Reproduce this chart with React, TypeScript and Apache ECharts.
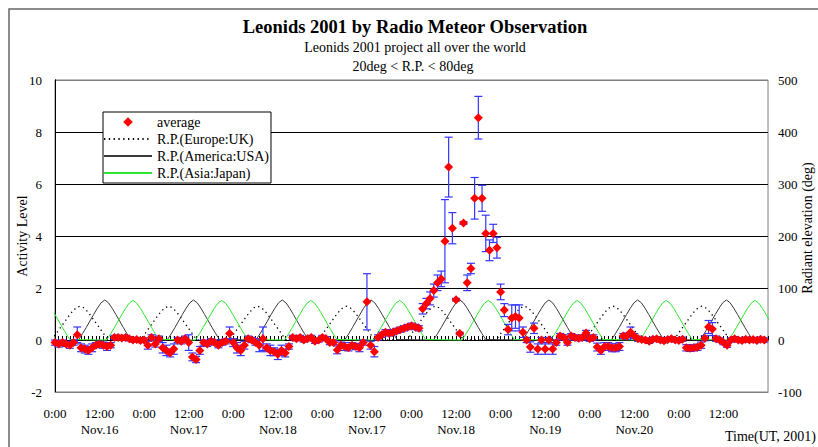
import React, { useEffect, useRef } from "react";
import * as echarts from "echarts";

const SERIF = '"Liberation Serif", "Times New Roman", serif';

const DAY_LABELS = ["Nov.16", "Nov.17", "Nov.18", "Nov.17", "Nov.18", "No.19", "Nov.20", ""];
const Y_LEFT_TICKS = { min: -2, max: 10, step: 2 };
const Y_RIGHT_TICKS = { min: -100, max: 500, step: 100 };

// hourly average activity level, hour 0 .. 191
const AVG = [
  -0.1, -0.15, -0.1, -0.15, -0.2, -0.1, 0.2, -0.3, -0.35, -0.4, -0.3, -0.2,
  -0.15, -0.2, -0.25, -0.2, 0.1, 0.1, 0.08, 0.1, 0.05, 0, 0.02, -0.02,
  0, -0.2, 0.1, -0.15, 0.05, -0.3, -0.4, -0.5, -0.35, 0, -0.05, 0.05,
  -0.1, -0.65, -0.75, -0.4, -0.1, -0.15, -0.05, -0.1, -0.2, -0.1, -0.05, 0.25,
  -0.1, -0.3, -0.4, -0.2, 0.05, 0, -0.1, -0.2, 0.05, -0.3, -0.4, -0.45,
  -0.55, -0.4, -0.5, -0.25, 0.1, 0.05, 0.1, 0, 0.05, 0.1, -0.05, 0,
  0.1, 0.05, -0.1, -0.1, -0.38, -0.2, -0.25, -0.3, -0.2, -0.25, -0.3, -0.1,
  1.47, -0.2, -0.45, 0.1, 0.2, 0.3, 0.25, 0.3, 0.35, 0.4, 0.45, 0.5,
  0.55, 0.5, 0.45, 1.2, 1.4, 1.6, 1.9, 2.2, 2.35, 3.8, 6.65, 4.3,
  1.55, 0.25, 4.5, 2.2, 2.75, 5.45, 8.55, 5.45, 4.1, 3.45, 4.1, 3.55,
  1.85, 1.15, 0.4, 0.85, 0.9, 0.85, 0.3, 0, -0.27, 0.45, -0.35, 0,
  -0.35, 0, -0.35, -0.1, 0.15, 0.1, -0.1, 0.15, 0.1, 0.07, 0.1, 0.27,
  0.05, 0.1, -0.27, -0.4, -0.25, -0.25, -0.3, -0.3, -0.25, 0.15, 0.15, 0.3,
  0.15, 0.05, 0.02, 0, -0.05, 0.03, 0.05, 0, -0.03, 0.02, 0.05, 0,
  -0.02, 0.03, -0.3, -0.32, -0.3, -0.28, -0.2, 0.07, 0.5, 0.42, 0.05, 0,
  -0.1, -0.2, 0, 0.05, 0, -0.02, 0.03, 0, 0.02, -0.02, 0.03, 0,
];

// half-length of the error bar for each hourly point
const ERR = [
  0.1, 0.12, 0.1, 0.1, 0.12, 0.1, 0.3, 0.15, 0.15, 0.15, 0.15, 0.1,
  0.1, 0.12, 0.15, 0.1, 0.08, 0.08, 0.08, 0.08, 0.08, 0.08, 0.08, 0.08,
  0.08, 0.15, 0.1, 0.12, 0.1, 0.2, 0.2, 0.15, 0.2, 0.1, 0.1, 0.1,
  0.3, 0.15, 0.12, 0.15, 0.1, 0.1, 0.1, 0.1, 0.1, 0.1, 0.1, 0.25,
  0.15, 0.2, 0.2, 0.15, 0.1, 0.1, 0.1, 0.25, 0.45, 0.15, 0.2, 0.15,
  0.2, 0.2, 0.15, 0.1, 0.08, 0.08, 0.08, 0.08, 0.08, 0.08, 0.08, 0.08,
  0.08, 0.08, 0.08, 0.08, 0.15, 0.12, 0.15, 0.12, 0.1, 0.12, 0.15, 0.1,
  1.08, 0.15, 0.2, 0.1, 0.1, 0.1, 0.1, 0.1, 0.1, 0.1, 0.1, 0.1,
  0.1, 0.1, 0.1, 0.2, 0.2, 0.25, 0.25, 0.3, 0.3, 1.6, 1.15, 0.6,
  0.05, 0.05, 0.05, 0.3, 0.2, 0.8, 0.82, 0.5, 0.7, 0.4, 0.35, 0.4,
  0.3, 0.25, 0.2, 0.5, 0.45, 0.5, 0.2, 0.1, 0.2, 0.2, 0.2, 0.1,
  0.2, 0.1, 0.2, 0.1, 0.1, 0.1, 0.1, 0.1, 0.1, 0.1, 0.1, 0.1,
  0.1, 0.1, 0.15, 0.15, 0.15, 0.15, 0.15, 0.15, 0.15, 0.1, 0.12, 0.2,
  0.1, 0.1, 0.08, 0.08, 0.08, 0.08, 0.08, 0.08, 0.08, 0.08, 0.08, 0.08,
  0.08, 0.08, 0.12, 0.12, 0.12, 0.12, 0.12, 0.1, 0.25, 0.25, 0.1, 0.08,
  0.08, 0.08, 0.08, 0.08, 0.08, 0.08, 0.08, 0.08, 0.08, 0.08, 0.08, 0.08,
];

// radiant elevation: culmination times (hour) and the hump shape [hours from culmination, deg]
const UK_PEAKS = [6.7, 30.6, 54.6, 78.5, 102.4, 126.4, 150.3, 174.2];
const USA_PEAKS = [13.4, 37.3, 61.2, 85.1, 109.0, 133.0, 156.9, 180.8];
const JAPAN_PEAKS = [-3.0, 21.0, 44.9, 68.9, 92.8, 116.7, 140.6, 164.6, 188.5];

const UK_PROFILE = [
  [-7.7, 0], [-7, 6], [-6, 16], [-5, 26], [-4, 36], [-3, 46], [-2, 55], [-1, 62], [0, 65],
  [1, 62], [2, 55], [3, 46], [4, 36], [5, 26], [6, 16], [7, 6], [7.7, 0],
];
const USA_PROFILE = [
  [-7.1, 0], [-7, 1], [-6, 12], [-5, 24], [-4, 36.5], [-3, 49], [-2, 61], [-1, 71.5], [0, 77],
  [1, 71.5], [2, 61], [3, 49], [4, 36.5], [5, 24], [6, 12], [7, 1], [7.1, 0],
];
const JAPAN_PROFILE = [
  [-7.1, 0], [-7, 1], [-6, 12], [-5, 24], [-4, 36.5], [-3, 49], [-2, 61], [-1, 71], [0, 76],
  [1, 71], [2, 61], [3, 49], [4, 36.5], [5, 24], [6, 12], [7, 1], [7.1, 0],
];

const HOURS = { min: 0, max: 192, label: 12, tick: 1 };

function humps(peaks: number[], profile: number[][]) {
  const out: number[][] = [];
  peaks.forEach((p) => profile.forEach(([dh, e]) => out.push([p + dh, e])));
  return out;
}

export default function App() {
  const ref = useRef<HTMLDivElement>(null);

  useEffect(() => {
    if (!ref.current) return;
    const chart = echarts.init(ref.current, null, { renderer: "svg" });

    const avgData = AVG.map((v, i) => [i, v]);
    const errData = AVG.map((v, i) => [i, v - ERR[i], v + ERR[i]]);

    const option: any = {
      animation: false,
      backgroundColor: "#ffffff",
      textStyle: { fontFamily: SERIF, color: "#000" },
      grid: {
        left: 55, right: 50, top: 80, bottom: 55,
        containLabel: false, outerBoundsMode: "none",
        show: true, borderColor: "#808080", borderWidth: 1, backgroundColor: "transparent",
      },
      legend: {
        orient: "vertical",
        left: 103, top: 112,
        itemWidth: 48, itemHeight: 12, itemGap: 3,
        padding: [3, 2, 3, 0],
        backgroundColor: "#ffffff",
        borderColor: "#000", borderWidth: 1, borderRadius: 0,
        selectedMode: false,
        textStyle: { fontFamily: SERIF, fontSize: 14, color: "#000" },
        data: [
          { name: "average", lineStyle: { opacity: 0 } },
          { name: "R.P.(Europe:UK)", itemStyle: { opacity: 0 } },
          { name: "R.P.(America:USA)", itemStyle: { opacity: 0 } },
          { name: "R.P.(Asia:Japan)", itemStyle: { opacity: 0 } },
        ],
      },
      graphic: [
        {
          type: "rect", silent: true, z: -10,
          shape: { x: 9, y: 9, width: 830, height: 460 },
          style: { fill: "none", stroke: "#666666", lineWidth: 1.5 },
        },
        {
          type: "text", x: 415, y: 27,
          style: {
            text: "Leonids 2001 by Radio Meteor Observation",
            font: `bold 18.5px ${SERIF}`, fill: "#000", textAlign: "center", textVerticalAlign: "middle",
          },
        },
        {
          type: "text", x: 415, y: 47,
          style: {
            text: "Leonids 2001 project all over the world",
            font: `14px ${SERIF}`, fill: "#000", textAlign: "center", textVerticalAlign: "middle",
          },
        },
        {
          type: "text", x: 413, y: 66,
          style: {
            text: "20deg < R.P. < 80deg",
            font: `14px ${SERIF}`, fill: "#000", textAlign: "center", textVerticalAlign: "middle",
          },
        },
        {
          type: "text", x: 725, y: 436,
          style: {
            text: "Time(UT, 2001)",
            font: `14px ${SERIF}`, fill: "#000", textAlign: "left", textVerticalAlign: "middle",
          },
        },
      ],
      xAxis: [
        {
          type: "value", min: HOURS.min, max: HOURS.max, interval: HOURS.label, position: "bottom",
          axisLine: { show: true, onZero: false, lineStyle: { color: "#808080" } },
          axisTick: { show: false },
          splitLine: { show: false },
          axisLabel: {
            margin: 13, fontSize: 13, lineHeight: 16, color: "#000", fontFamily: SERIF,
            formatter: (v: number) => {
              if (v >= HOURS.max) return "";
              if (v % 24 === 0) return "0:00";
              const d = DAY_LABELS[Math.floor(v / 24)];
              return d ? `12:00\n${d}` : "12:00";
            },
          },
        },
        {
          type: "value", min: HOURS.min, max: HOURS.max, interval: HOURS.tick, position: "bottom",
          axisLine: { show: true, onZero: true, onZeroAxisIndex: 0, lineStyle: { color: "#000" } },
          axisTick: { show: true, inside: true, length: 4, lineStyle: { color: "#000" } },
          axisLabel: { show: false },
          splitLine: { show: false },
        },
      ],
      yAxis: [
        {
          type: "value", min: Y_LEFT_TICKS.min, max: Y_LEFT_TICKS.max, interval: Y_LEFT_TICKS.step,
          position: "left",
          name: "Activity Level", nameLocation: "middle", nameRotate: 90, nameGap: 26,
          nameMoveOverlap: false,
          nameTextStyle: { fontFamily: SERIF, fontSize: 14, color: "#000" },
          axisLine: { show: true, lineStyle: { color: "#000" } },
          axisTick: { show: false },
          axisLabel: { margin: 13, fontSize: 13, color: "#000", fontFamily: SERIF },
          splitLine: {
            show: true,
            lineStyle: { color: ["#808080", "#000", "#000", "#000", "#000", "#000", "#808080"], width: 1 },
          },
        },
        {
          type: "value", min: Y_RIGHT_TICKS.min, max: Y_RIGHT_TICKS.max, interval: Y_RIGHT_TICKS.step,
          position: "right",
          name: "Radiant elevation (deg)", nameLocation: "middle", nameRotate: 90, nameGap: 32,
          nameMoveOverlap: false,
          nameTextStyle: { fontFamily: SERIF, fontSize: 14, color: "#000", padding: [0, 0, 0, 16] },
          axisLine: { show: true, lineStyle: { color: "#000" } },
          axisTick: { show: false },
          axisLabel: { margin: 10, fontSize: 13, color: "#000", fontFamily: SERIF },
          splitLine: { show: false },
        },
      ],
      series: [
        {
          name: "R.P.(Europe:UK)", type: "line", yAxisIndex: 1, z: 2,
          data: humps(UK_PEAKS, UK_PROFILE), symbol: "none",
          lineStyle: { color: "#000", width: 1.3, type: [1.3, 3.5] },
          itemStyle: { color: "#000" },
        },
        {
          name: "R.P.(America:USA)", type: "line", yAxisIndex: 1, z: 2,
          data: humps(USA_PEAKS, USA_PROFILE), symbol: "none",
          lineStyle: { color: "#3a3a3a", width: 1 },
          itemStyle: { color: "#3a3a3a" },
        },
        {
          name: "R.P.(Asia:Japan)", type: "line", yAxisIndex: 1, z: 2,
          data: humps(JAPAN_PEAKS, JAPAN_PROFILE), symbol: "none",
          lineStyle: { color: "#2ee62e", width: 1 },
          itemStyle: { color: "#2ee62e" },
        },
        {
          name: "error", type: "custom", z: 3,
          data: errData,
          encode: { x: 0, y: [1, 2] },
          renderItem: (params: any, api: any) => {
            const x = api.value(0);
            const top = api.coord([x, api.value(2)]);
            const bot = api.coord([x, api.value(1)]);
            const cap = 4;
            const style = { stroke: "#3535ff", lineWidth: 1.2 };
            return {
              type: "group",
              children: [
                { type: "line", shape: { x1: top[0], y1: top[1], x2: bot[0], y2: bot[1] }, style },
                { type: "line", shape: { x1: top[0] - cap, y1: top[1], x2: top[0] + cap, y2: top[1] }, style },
                { type: "line", shape: { x1: bot[0] - cap, y1: bot[1], x2: bot[0] + cap, y2: bot[1] }, style },
              ],
            };
          },
        },
        {
          name: "average", type: "line", z: 4,
          data: avgData,
          symbol: "diamond", symbolSize: 9, showSymbol: true, showAllSymbol: true,
          lineStyle: { width: 0, opacity: 0 },
          itemStyle: { color: "#ff0000" },
        },
      ],
    };

    chart.setOption(option);
    return () => chart.dispose();
  }, []);

  return (
    <div
      ref={ref}
      style={{ position: "fixed", left: 0, top: 0, width: 818, height: 447, background: "#fff" }}
    />
  );
}
